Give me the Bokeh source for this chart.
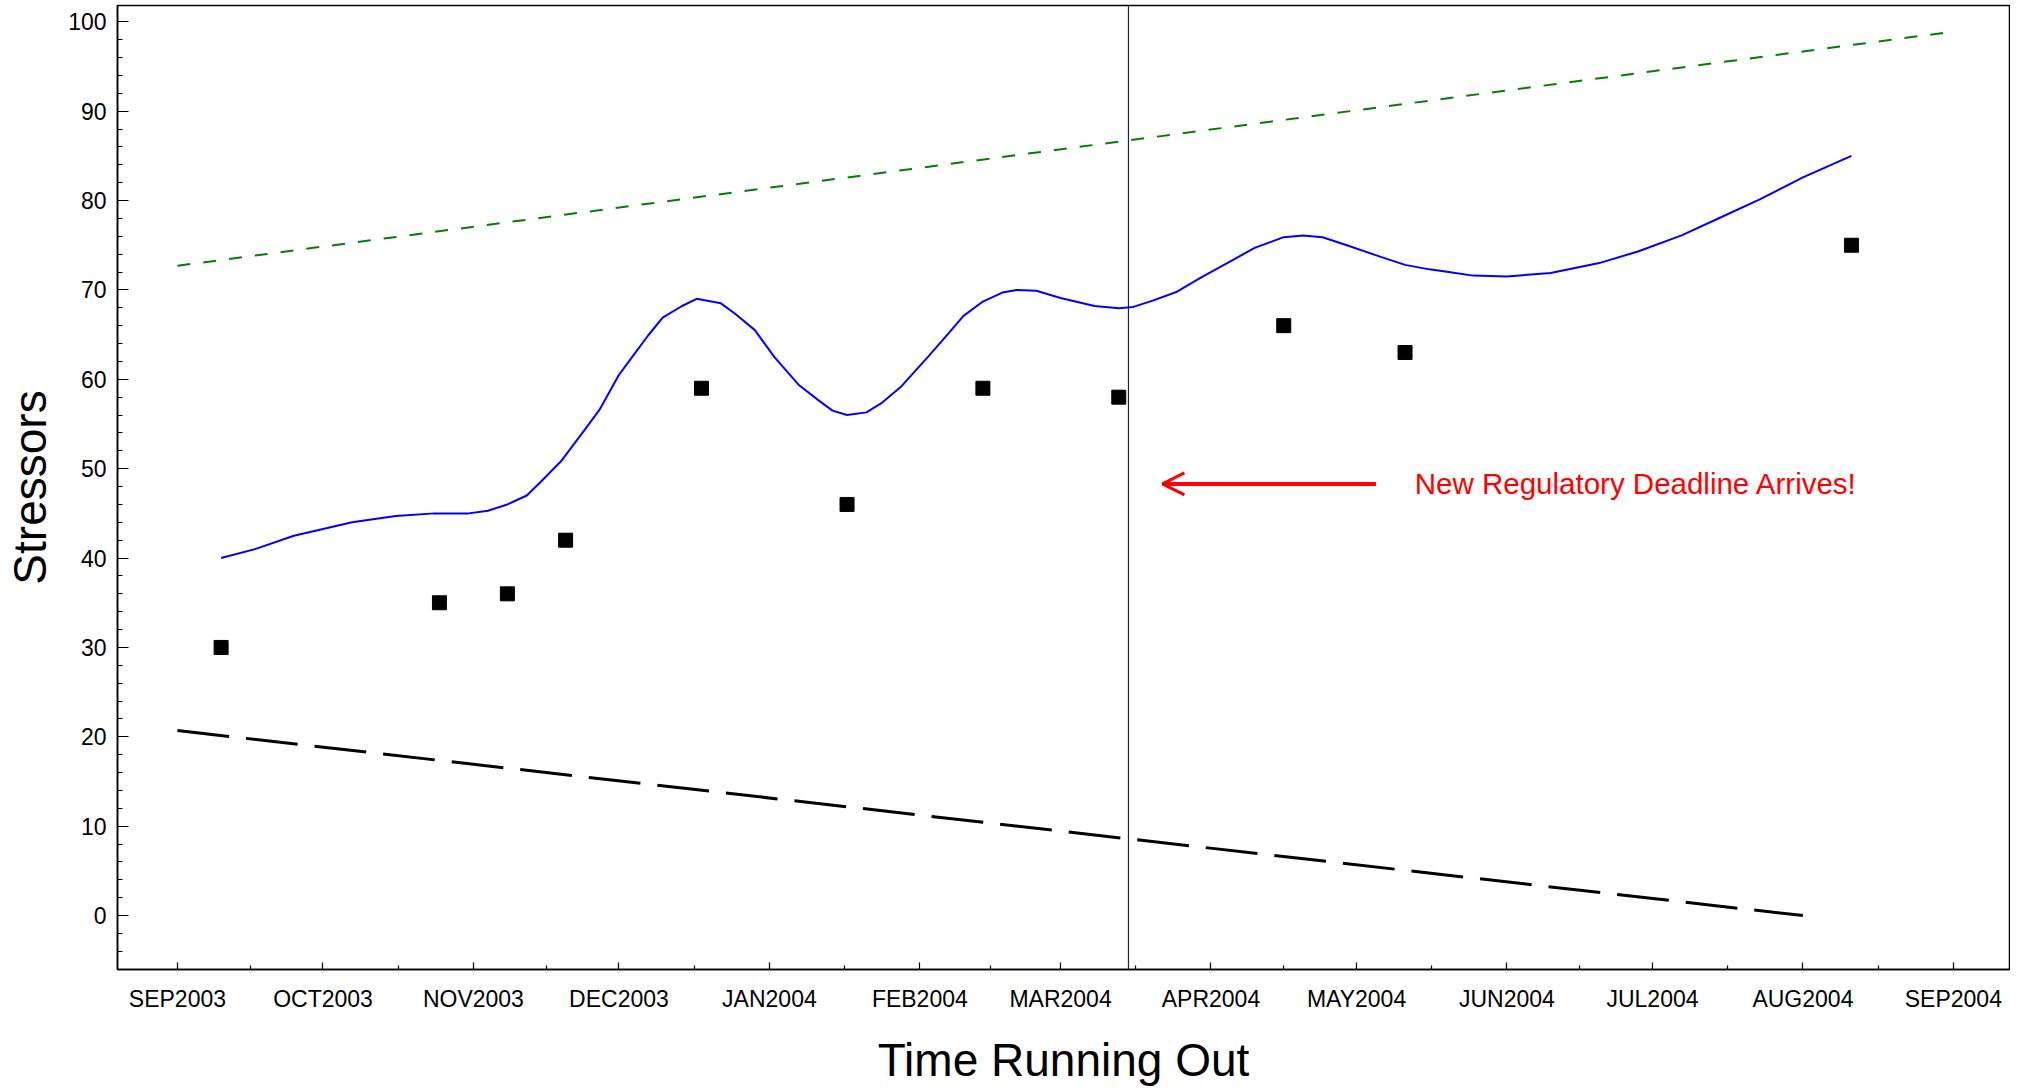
import pandas as pd
from bokeh.plotting import figure
from bokeh.models import FixedTicker, Span, Arrow, OpenHead, Label
from bokeh.embed import file_html
from bokeh.resources import INLINE

# ---------------- data ----------------
obs_dates = ["2003-09-10", "2003-10-25", "2003-11-08", "2003-11-20", "2003-12-18",
             "2004-01-17", "2004-02-14", "2004-03-13", "2004-04-16", "2004-05-11",
             "2004-08-11"]
obs_values = [30, 35, 36, 42, 59, 46, 59, 58, 66, 63, 75]

smooth_dates = ["2003-09-10", "2003-09-17", "2003-09-25", "2003-10-07", "2003-10-16",
                "2003-10-24", "2003-10-31", "2003-11-04", "2003-11-08", "2003-11-12",
                "2003-11-15", "2003-11-19", "2003-11-24", "2003-11-27", "2003-12-01",
                "2003-12-04", "2003-12-07", "2003-12-10", "2003-12-14", "2003-12-17",
                "2003-12-22", "2003-12-25", "2003-12-29", "2004-01-02", "2004-01-07",
                "2004-01-11", "2004-01-14", "2004-01-17", "2004-01-21", "2004-01-24",
                "2004-01-28", "2004-02-03", "2004-02-07", "2004-02-10", "2004-02-14",
                "2004-02-18", "2004-02-21", "2004-02-25", "2004-03-01", "2004-03-08",
                "2004-03-13", "2004-03-16", "2004-03-20", "2004-03-25", "2004-03-30",
                "2004-04-05", "2004-04-10", "2004-04-16", "2004-04-20", "2004-04-24",
                "2004-04-29", "2004-05-06", "2004-05-11", "2004-05-16", "2004-05-20",
                "2004-05-25", "2004-06-01", "2004-06-10", "2004-06-20", "2004-06-28",
                "2004-07-07", "2004-07-15", "2004-07-23", "2004-08-01", "2004-08-11"]
smooth_values = [40.0, 41.0, 42.5, 44.0, 44.7,
                 45.0, 45.0, 45.3, 46.0, 47.0,
                 48.6, 50.8, 54.4, 56.6, 60.5,
                 62.7, 64.9, 66.9, 68.2, 69.0,
                 68.5, 67.3, 65.5, 62.5, 59.4,
                 57.7, 56.5, 56.0, 56.3, 57.3,
                 59.1, 62.7, 65.2, 67.1, 68.7,
                 69.7, 70.0, 69.9, 69.1, 68.2,
                 67.95, 68.1, 68.8, 69.8, 71.4,
                 73.2, 74.7, 75.9, 76.1, 75.9,
                 75.0, 73.7, 72.8, 72.3, 72.0,
                 71.6, 71.5, 71.9, 73.0, 74.3,
                 76.1, 78.1, 80.1, 82.6, 85.0]

upper_dates = ["2003-09-01", "2004-09-01"]
upper_values = [72.7, 98.9]
lower_dates = ["2003-09-01", "2004-08-01"]
lower_values = [20.7, 0.0]

deadline_date = "2004-03-15"
arrow_from_date = "2004-05-05"
arrow_to_date = "2004-03-22"
arrow_value = 48.3
note_date = "2004-05-13"
note_text = "New Regulatory Deadline Arrives!"

month_tick_dates = ["2003-09-01", "2003-10-01", "2003-11-01", "2003-12-01", "2004-01-01",
                    "2004-02-01", "2004-03-01", "2004-04-01", "2004-05-01", "2004-06-01",
                    "2004-07-01", "2004-08-01", "2004-09-01"]
month_labels = ["SEP2003", "OCT2003", "NOV2003", "DEC2003", "JAN2004", "FEB2004",
                "MAR2004", "APR2004", "MAY2004", "JUN2004", "JUL2004", "AUG2004",
                "SEP2004"]
y_ticks = list(range(0, 101, 10))
y_minor_ticks = list(range(-4, 101, 2))


def ms(d):
    return pd.Timestamp(d).value / 1e6


FONT = "Liberation Sans"

x_start = ms(pd.Timestamp("2003-09-01") - pd.Timedelta(days=12.35))
x_end = ms(pd.Timestamp("2003-09-01") + pd.Timedelta(days=377.57))

p = figure(width=2010, height=1088, x_axis_type="datetime",
           x_range=(x_start, x_end), y_range=(-6.03, 101.82),
           output_backend="svg", toolbar_location=None,
           min_border_left=117, min_border_right=1, min_border_top=5,
           min_border_bottom=112)
p.background_fill_color = "white"
p.border_fill_color = "white"
p.outline_line_color = "black"
p.outline_line_width = 1.5
p.xgrid.visible = False
p.ygrid.visible = False

# ticks
major_ms = [ms(d) for d in month_tick_dates]
minor_ms = [(a + b) / 2 for a, b in zip(major_ms[:-1], major_ms[1:])]
p.xaxis.ticker = FixedTicker(ticks=major_ms, minor_ticks=minor_ms)
p.xaxis.major_label_overrides = {t: lab for t, lab in zip(major_ms, month_labels)}
p.yaxis.ticker = FixedTicker(ticks=y_ticks, minor_ticks=y_minor_ticks)

for ax in (p.xaxis[0], p.yaxis[0]):
    ax.axis_line_color = "black"
    ax.axis_line_width = 1.5
    ax.major_tick_line_color = "black"
    ax.minor_tick_line_color = "black"
    ax.major_tick_line_width = 1.2
    ax.minor_tick_line_width = 1.2
    ax.major_tick_out = 0
    ax.minor_tick_out = 0
    ax.major_label_text_font = FONT
    ax.major_label_text_font_size = "23px"
    ax.major_label_text_color = "black"
    ax.axis_label_text_font = FONT
    ax.axis_label_text_font_size = "46px"
    ax.axis_label_text_font_style = "normal"
    ax.axis_label_text_color = "black"

p.xaxis.major_tick_in = 7
p.xaxis.minor_tick_in = 4
p.yaxis.major_tick_in = 11
p.yaxis.minor_tick_in = 5
p.xaxis.major_label_standoff = 16
p.yaxis.major_label_standoff = 11
p.xaxis.axis_label = "Time Running Out"
p.yaxis.axis_label = "Stressors"
p.xaxis.axis_label_standoff = 19
p.yaxis.axis_label_standoff = 9

# reference lines
p.line(x=pd.to_datetime(upper_dates), y=upper_values, line_color="#008000",
       line_width=2, line_dash="13 13")
p.line(x=pd.to_datetime(lower_dates), y=lower_values, line_color="black",
       line_width=3, line_dash="52 17")

# smooth curve
p.line(x=pd.to_datetime(smooth_dates), y=smooth_values, line_color="#0000FF",
       line_width=2)

# observations
p.scatter(x=pd.to_datetime(obs_dates), y=obs_values, marker="square", size=14,
          fill_color="black", line_color="black")

# deadline
p.add_layout(Span(location=ms(deadline_date), dimension="height",
                  line_color="#222222", line_width=1.2))

p.add_layout(Arrow(end=OpenHead(size=22, line_color="red", line_width=3),
                   x_start=ms(arrow_from_date), y_start=arrow_value,
                   x_end=ms(arrow_to_date), y_end=arrow_value,
                   line_color="red", line_width=4))
p.add_layout(Label(x=ms(note_date), y=arrow_value, text=note_text,
                   text_color="red", text_font=FONT, text_font_size="29.5px",
                   text_baseline="middle", text_align="left"))

open("out.html", "w").write(file_html(p, INLINE))
